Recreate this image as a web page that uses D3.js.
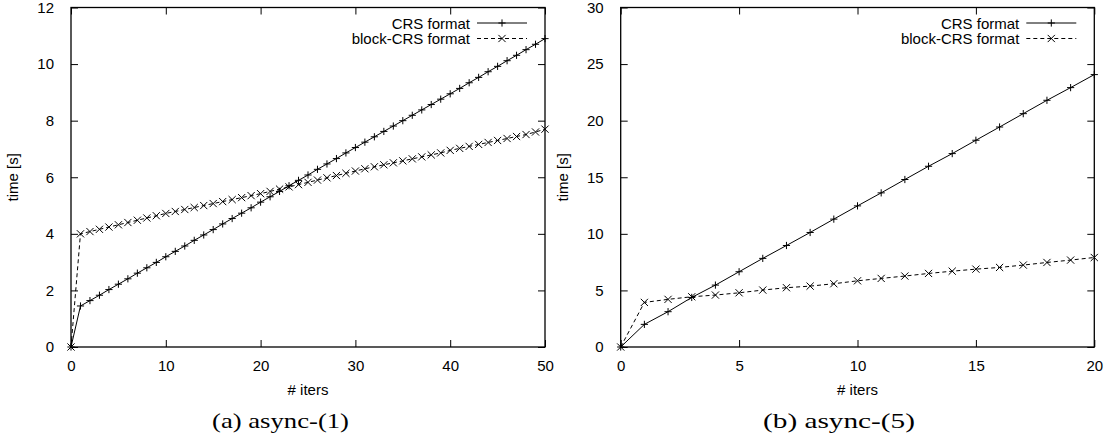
<!DOCTYPE html>
<html>
<head>
<meta charset="utf-8">
<script src="https://cdn.jsdelivr.net/npm/d3@7"></script>
<style>
  html, body { margin: 0; padding: 0; background: #fff; }
  svg { display: block; }
  .tick-label, .axis-title, .legend-text { font-family: "Liberation Sans", Arial, Helvetica, sans-serif; font-size: 15px; fill: #000; }
  .caption { font-family: "Liberation Serif", "Times New Roman", serif; font-size: 21px; fill: #000; }
</style>
</head>
<body>
<svg id="chart" width="1112" height="437"></svg>
<script>
// ---------------- data ----------------
const seriesNames = ["CRS format", "block-CRS format"];

// Panel (a) async-(1)
const itersA = d3.range(0, 51);
const crsA = [0, 1.45, 1.64, 1.83, 2.03, 2.22, 2.41, 2.61, 2.80, 2.99,
  3.19, 3.38, 3.57, 3.77, 3.96, 4.15, 4.35, 4.54, 4.73, 4.92,
  5.12, 5.31, 5.50, 5.70, 5.89, 6.08, 6.28, 6.47, 6.66, 6.86,
  7.05, 7.24, 7.43, 7.62, 7.81, 8.00, 8.19, 8.38, 8.57, 8.76,
  8.95, 9.14, 9.34, 9.53, 9.73, 9.92, 10.12, 10.31, 10.51, 10.70, 10.90];
const blockA = [0, 4.00, 4.08, 4.16, 4.24, 4.32, 4.40, 4.48, 4.56, 4.64,
  4.72, 4.79, 4.86, 4.93, 5.00, 5.07, 5.14, 5.21, 5.28, 5.35,
  5.42, 5.50, 5.58, 5.66, 5.74, 5.82, 5.90, 5.98, 6.06, 6.14,
  6.22, 6.30, 6.37, 6.44, 6.51, 6.58, 6.65, 6.72, 6.79, 6.86,
  6.95, 7.02, 7.09, 7.16, 7.23, 7.30, 7.37, 7.44, 7.51, 7.60, 7.70];
const xTicksA = [0, 10, 20, 30, 40, 50];
const yTicksA = [0, 2, 4, 6, 8, 10, 12];
const captionA = "(a) async-(1)";

// Panel (b) async-(5)
const itersB = d3.range(0, 21);
const crsB = [0, 2.00, 3.12, 4.38, 5.47, 6.65, 7.83, 8.97, 10.12, 11.30,
  12.47, 13.62, 14.80, 15.97, 17.09, 18.27, 19.44, 20.62, 21.80, 22.92, 24.07];
const blockB = [0, 3.94, 4.21, 4.44, 4.59, 4.79, 5.03, 5.24, 5.38, 5.59,
  5.85, 6.06, 6.27, 6.50, 6.70, 6.88, 7.03, 7.24, 7.47, 7.68, 7.91];
const xTicksB = [0, 5, 10, 15, 20];
const yTicksB = [0, 5, 10, 15, 20, 25, 30];
const captionB = "(b) async-(5)";

const xLabel = "# iters";
const yLabel = "time [s]";

// ---------------- drawing ----------------
const svg = d3.select("#chart");

const panels = [
  { left: 71, right: 545, top: 7.5, bottom: 347, xDomain: [0, 50], yDomain: [0, 12],
    xTicks: xTicksA, yTicks: yTicksA, iters: itersA, series: [crsA, blockA],
    caption: captionA, captionX: 212, captionW: 137, yLabelX: 12 },
  { left: 620.7, right: 1094.3, top: 7.5, bottom: 347, xDomain: [0, 20], yDomain: [0, 30],
    xTicks: xTicksB, yTicks: yTicksB, iters: itersB, series: [crsB, blockB],
    caption: captionB, captionX: 763, captionW: 152, yLabelX: 562 }
];

const styles = [
  { dash: null, marker: "plus" },
  { dash: "4,3", marker: "cross" }
];

function marker(g, type, cx, cy) {
  const s = 3.6;
  const p = d3.path();
  if (type === "plus") {
    p.moveTo(cx - s, cy); p.lineTo(cx + s, cy);
    p.moveTo(cx, cy - s); p.lineTo(cx, cy + s);
  } else {
    p.moveTo(cx - s, cy - s); p.lineTo(cx + s, cy + s);
    p.moveTo(cx - s, cy + s); p.lineTo(cx + s, cy - s);
  }
  g.append("path").attr("d", p.toString()).attr("stroke", "#000")
    .attr("stroke-width", 1).attr("fill", "none");
}

panels.forEach(P => {
  const x = d3.scaleLinear().domain(P.xDomain).range([P.left, P.right]);
  const y = d3.scaleLinear().domain(P.yDomain).range([P.bottom, P.top]);
  const g = svg.append("g");
  const tickLen = 7;

  // axes with inward ticks on all sides
  const axB = d3.axisBottom(x).tickValues(P.xTicks).tickSize(-tickLen).tickPadding(tickLen + 6).tickFormat(d3.format("d"));
  const axT = d3.axisTop(x).tickValues(P.xTicks).tickSize(-tickLen).tickFormat("");
  const axL = d3.axisLeft(y).tickValues(P.yTicks).tickSize(-tickLen).tickPadding(tickLen + 10).tickFormat(d3.format("d"));
  const axR = d3.axisRight(y).tickValues(P.yTicks).tickSize(-tickLen).tickFormat("");

  [[axB, `translate(0,${P.bottom})`], [axT, `translate(0,${P.top})`],
   [axL, `translate(${P.left},0)`], [axR, `translate(${P.right},0)`]].forEach(([ax, tr]) => {
    const a = g.append("g").attr("transform", tr).call(ax);
    a.attr("font-size", null).attr("font-family", null);
    a.select(".domain").remove();
    a.selectAll(".tick line").attr("stroke", "#000").attr("stroke-width", 1);
    a.selectAll(".tick text").attr("class", "tick-label");
  });

  // frame
  g.append("rect").attr("x", P.left).attr("y", P.top)
    .attr("width", P.right - P.left).attr("height", P.bottom - P.top)
    .attr("fill", "none").attr("stroke", "#000").attr("stroke-width", 1.3);

  // series
  P.series.forEach((vals, si) => {
    const st = styles[si];
    const line = d3.line().x((d, i) => x(P.iters[i])).y(d => y(d));
    g.append("path").datum(vals).attr("d", line).attr("fill", "none")
      .attr("stroke", "#000").attr("stroke-width", 1)
      .attr("stroke-dasharray", st.dash);
    vals.forEach((v, i) => marker(g, st.marker, x(P.iters[i]), y(v)));
  });

  // legend
  const textRight = P.right - 75;
  seriesNames.forEach((name, si) => {
    const ly = 23 + si * 15.5;
    g.append("text").attr("class", "legend-text").attr("x", textRight).attr("y", ly)
      .attr("text-anchor", "end").attr("dominant-baseline", "central").text(name);
    g.append("line").attr("x1", P.right - 68).attr("x2", P.right - 18)
      .attr("y1", ly).attr("y2", ly).attr("stroke", "#000").attr("stroke-width", 1)
      .attr("stroke-dasharray", styles[si].dash);
    marker(g, styles[si].marker, P.right - 43, ly);
  });

  // axis titles
  g.append("text").attr("class", "axis-title").attr("x", (P.left + P.right) / 2).attr("y", 395)
    .attr("text-anchor", "middle").text(xLabel);
  g.append("text").attr("class", "axis-title")
    .attr("transform", `translate(${P.yLabelX},${(P.top + P.bottom) / 2}) rotate(-90)`)
    .attr("text-anchor", "middle").attr("dominant-baseline", "central").text(yLabel);

  // caption
  g.append("text").attr("class", "caption").attr("x", P.captionX).attr("y", 428)
    .attr("text-anchor", "start")
    .attr("textLength", P.captionW).attr("lengthAdjust", "spacingAndGlyphs")
    .text(P.caption);
});
</script>
</body>
</html>
